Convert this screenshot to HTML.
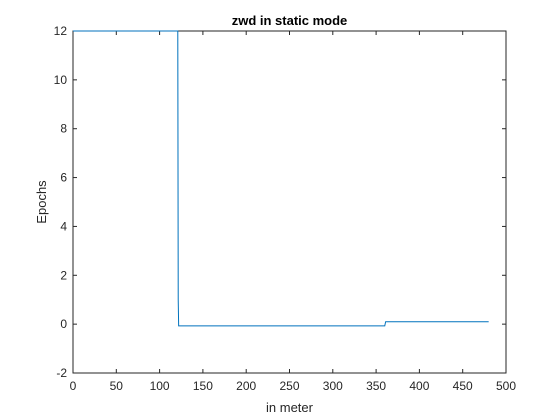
<!DOCTYPE html>
<html><head><meta charset="utf-8"><style>
body{margin:0;background:#fff;}
svg{display:block;font-family:"Liberation Sans",Arial,sans-serif;}
</style></head><body>
<svg id="chart" width="560" height="420">
<rect x="0" y="0" width="560" height="420" fill="#fff"/>
<g id="axes"></g>
</svg>
<script>
const xs = [0, 121, 121.5, 122, 360, 361, 480];
const ys = [12, 12, 1, -0.07, -0.07, 0.1, 0.1];
const xTicks = [0,50,100,150,200,250,300,350,400,450,500];
const yTicks = [-2,0,2,4,6,8,10,12];
const L=73,R=506,T=31,B=373;
const sx=v=>L+(v-0)/(500-0)*(R-L);
const sy=v=>B-(v+2)/14*(B-T);
const NS='http://www.w3.org/2000/svg';
const g=document.getElementById('axes');
function mk(t,a){const e=document.createElementNS(NS,t);for(const k in a)e.setAttribute(k,a[k]);g.appendChild(e);return e;}
const box=mk('rect',{x:L,y:T,width:R-L,height:B-T,fill:'#fff',stroke:'#262626','stroke-width':1});


xTicks.forEach(v=>{const x=sx(v);
 const t1=mk('line',{x1:x,x2:x,y1:B,y2:B-4,stroke:'#262626'});
 
 const t2=mk('line',{x1:x,x2:x,y1:T,y2:T+4,stroke:'#262626'});
 
 const tx=mk('text',{x:x,y:B+17,'text-anchor':'middle','font-size':12,fill:'#262626'});tx.textContent=v;
 });
yTicks.forEach(v=>{const y=sy(v);
 const t1=mk('line',{x1:L,x2:L+4,y1:y,y2:y,stroke:'#262626'});
 
 const t2=mk('line',{x1:R,x2:R-4,y1:y,y2:y,stroke:'#262626'});
 
 const tx=mk('text',{x:L-6,y:y+4,'text-anchor':'end','font-size':12,fill:'#262626'});tx.textContent=v;
 });
const p=mk('polyline',{points:xs.map((x,i)=>sx(x)+','+sy(ys[i])).join(' '),fill:'none',stroke:'#0072bd','stroke-width':1});

const ti=mk('text',{x:(L+R)/2,y:25,'text-anchor':'middle','font-size':13,'font-weight':'bold',fill:'#000'});ti.textContent='zwd in static mode';

const xl=mk('text',{x:(L+R)/2,y:412,'text-anchor':'middle','font-size':13,fill:'#262626'});xl.textContent='in meter';

const yl=mk('text',{x:46,y:(T+B)/2,'text-anchor':'middle','font-size':13,fill:'#262626',transform:'rotate(-90 46 '+((T+B)/2)+')'});yl.textContent='Epochs';

</script>
</body></html>
